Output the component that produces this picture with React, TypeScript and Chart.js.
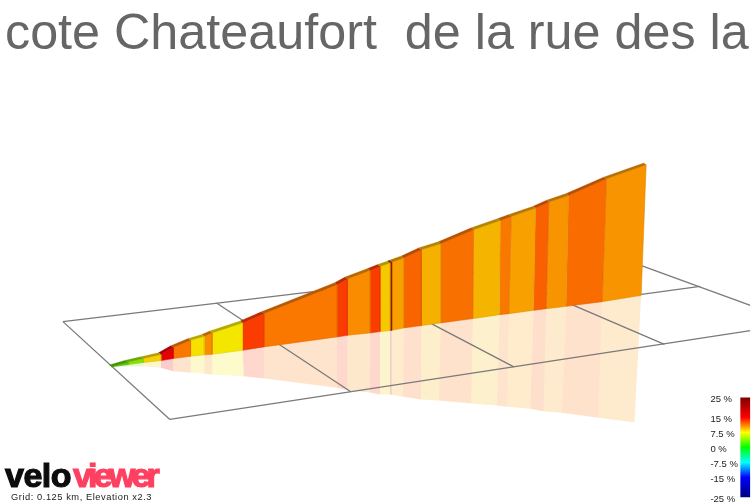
import React, { useEffect, useRef } from "react";
import { Chart, registerables } from "chart.js";

Chart.register(...registerables);

const titleText = "cote Chateaufort  de la rue des la";
const gridCaption = "Grid: 0.125 km, Elevation x2.3";
const legendValues = [25, 15, 7.5, 0, -7.5, -15, -25];
const legendColors = ["#7f0000", "#ff0000", "#ffff00", "#00ff00", "#00ffff", "#0000ff", "#00007f"];

const bandColors = ["#5cc800", "#8ce000", "#f5d000", "#e60000", "#fa7800", "#f5e000", "#fa8c00", "#f5e600", "#fa3c00", "#fa7800", "#fa3c00", "#fa8c00", "#fa3c00", "#f5c800", "#a01000", "#f8a000", "#f86400", "#f5b000", "#f87000", "#f5b400", "#f87800", "#f8a000", "#f86000", "#f89400", "#f86c00", "#f89400"];
const topX = [111.7, 128, 143.3, 161, 173.3, 190.7, 204.3, 212.3, 242.7, 264, 337.3, 347.7, 370.3, 380.3, 390.3, 392, 404, 421.7, 441, 474, 500.7, 511.7, 536, 549.3, 569, 607, 646.7];
const topY = [367.3, 362.5, 359, 355, 348, 340.7, 336.7, 333.3, 323.3, 314, 285, 279.3, 270.7, 266.7, 263.3, 262.5, 258.3, 250, 244, 230, 220.7, 216.7, 208.3, 202.3, 195.7, 179, 165];
const baseX = [111.7, 128, 143.3, 161, 173.3, 190.7, 204.3, 212.3, 242.7, 264, 337.3, 347.7, 370.3, 380.3, 390.3, 392, 404, 421.7, 441, 473.3, 500, 509.3, 534, 546.7, 566.7, 602.7, 641.7];
const baseY = [367.3, 365, 363, 361, 359, 356.7, 355.3, 354.7, 350.7, 347.3, 337.3, 335.7, 333.3, 332, 331, 330.7, 328.3, 326, 323.3, 319, 315, 314, 310.7, 309, 306.7, 302, 295.7];
const reflectX = [111.7, 128, 143.3, 161, 173.3, 191, 204.5, 212.5, 244, 264.7, 337.3, 347.7, 370, 380.3, 390.3, 392, 403.3, 421.3, 439.3, 471.7, 497.3, 507.7, 530.7, 544, 562.3, 598.7, 635];
const reflectY = [367.3, 367, 367, 368.3, 371.7, 373.3, 374.3, 375, 376.7, 379, 388.3, 390.7, 393, 395, 395, 395.3, 397.3, 400, 401, 404, 406, 407.3, 409.3, 411.7, 413.3, 418.3, 422.7];

const gridFromX = [63, 63, 614.5, 216.7, 360, 492, 400, 170];
const gridFromY = [322, 322, 256, 303.3, 286.5, 270.5, 327.7, 420];
const gridToX = [170, 614.5, 751, 350.7, 514.3, 665, 700.7, 751];
const gridToY = [420, 256, 305.7, 392, 367.3, 344.7, 286.7, 331];

const W = 751;
const H = 503;
const TITLE_H = 60;
const LEFT_PAD = 5;

function hexToRgb(hex: string) {
  return [1, 3, 5].map((i) => parseInt(hex.slice(i, i + 2), 16));
}
function tint(hex: string, a: number) {
  const [r, g, b] = hexToRgb(hex);
  return `rgba(${r},${g},${b},${a})`;
}
function shade(hex: string, k: number) {
  const [r, g, b] = hexToRgb(hex);
  return `rgb(${Math.round(r * k)},${Math.round(g * k)},${Math.round(b * k)})`;
}
function polygon(xs: number[], ys: number[]) {
  return xs.map((x, i) => ({ x, y: ys[i] }));
}

function makeDatasets(legendFill: (c: Chart) => CanvasGradient | string) {
  const sets: any[] = [];
  const shape = (pts: any[], color: any, order: number, borderWidth = 0.4, borderColor: any = color) => ({
    data: pts,
    showLine: true,
    fill: "shape",
    backgroundColor: color,
    borderColor,
    borderWidth,
    pointRadius: 0,
    clip: false,
    order,
  });
  bandColors.forEach((c, i) => {
    sets.push(
      shape(
        polygon(
          [baseX[i], baseX[i + 1], reflectX[i + 1], reflectX[i]],
          [baseY[i], baseY[i + 1], reflectY[i + 1], reflectY[i]]
        ),
        tint(c, 0.2),
        5,
        0
      )
    );
  });
  gridFromX.forEach((x, i) => {
    sets.push({
      data: polygon([x, gridToX[i]], [gridFromY[i], gridToY[i]]),
      showLine: true,
      fill: false,
      borderColor: "#7a7a7a",
      borderWidth: 1.3,
      pointRadius: 0,
      order: 4,
    });
  });
  bandColors.forEach((c, i) => {
    sets.push(
      shape(
        polygon(
          [topX[i], topX[i + 1], baseX[i + 1], baseX[i]],
          [topY[i], topY[i + 1], baseY[i + 1], baseY[i]]
        ),
        c,
        3,
        0.6,
        shade(c, 0.9)
      )
    );
    sets.push(
      shape(
        polygon(
          [topX[i], topX[i + 1], topX[i + 1] - 2.5, topX[i] - 2.5],
          [topY[i], topY[i + 1], topY[i + 1] - 1.9, topY[i] - 1.9]
        ),
        shade(c, 0.74),
        2,
        0.2
      )
    );
  });
  sets.push(
    shape(
      polygon([741, 751, 751, 741], [398, 398, 498, 498]),
      (ctx: any) => legendFill(ctx.chart),
      1,
      0
    )
  );
  return sets;
}

const overlayText = {
  id: "overlayText",
  afterDraw(chart: Chart) {
    const { ctx, scales } = chart;
    const px = (x: number) => scales.x.getPixelForValue(x);
    const py = (y: number) => scales.y.getPixelForValue(y);
    ctx.save();
    ctx.textBaseline = "middle";
    ctx.textAlign = "left";
    ctx.fillStyle = "#222";
    ctx.font = '9.5px "Liberation Sans"';
    legendValues.forEach((v) => {
      ctx.fillText(`${v} %`, px(711), py(449.7 - 2 * v));
    });
    ctx.font = '9.3px "Liberation Sans"';
    (ctx as any).letterSpacing = "0.55px";
    ctx.fillText(gridCaption, px(11), py(498));
    ctx.textBaseline = "alphabetic";
    ctx.font = 'bold 34px "Liberation Sans"';
    ctx.lineWidth = 1.2;
    (ctx as any).letterSpacing = "-0.5px";
    ctx.fillStyle = ctx.strokeStyle = "#0c0c0c";
    ctx.fillText("velo", px(5), py(488));
    ctx.strokeText("velo", px(5), py(488));
    (ctx as any).letterSpacing = "-3.8px";
    ctx.fillStyle = ctx.strokeStyle = "#ff4060";
    ctx.fillText("viewer", px(73), py(488));
    ctx.strokeText("viewer", px(73), py(488));
    ctx.restore();
  },
};

export default function App() {
  const ref = useRef<HTMLCanvasElement>(null);
  useEffect(() => {
    document.body.style.margin = "0";
    const legendFill = (c: Chart) => {
      const sy = c.scales.y;
      const top = sy ? sy.getPixelForValue(398) : NaN;
      const bottom = sy ? sy.getPixelForValue(498) : NaN;
      if (!Number.isFinite(top) || !Number.isFinite(bottom)) return "#888";
      const g = c.ctx.createLinearGradient(0, top, 0, bottom);
      legendValues.forEach((v, i) => g.addColorStop((25 - v) / 50, legendColors[i]));
      return g;
    };
    const chart = new Chart(ref.current!, {
      type: "scatter",
      data: { datasets: makeDatasets(legendFill) },
      plugins: [overlayText],
      options: {
        animation: false,
        responsive: false,
        devicePixelRatio: 1,
        layout: { padding: { left: LEFT_PAD } },
        elements: { line: { tension: 0 } },
        plugins: {
          legend: { display: false },
          tooltip: { enabled: false },
          title: {
            display: true,
            text: titleText,
            align: "start",
            color: "#666666",
            font: { family: '"Liberation Sans"', size: 50.3, weight: "normal", lineHeight: 1 },
            padding: { top: 9.7, bottom: 0 },
          },
        },
        scales: {
          x: { type: "linear", display: false, min: LEFT_PAD, max: W },
          y: { type: "linear", display: false, reverse: true, min: TITLE_H, max: H },
        },
      } as any,
    });
    chart.update();
    return () => chart.destroy();
  }, []);
  return <canvas ref={ref} width={W} height={H} style={{ display: "block", width: W, height: H }} />;
}
